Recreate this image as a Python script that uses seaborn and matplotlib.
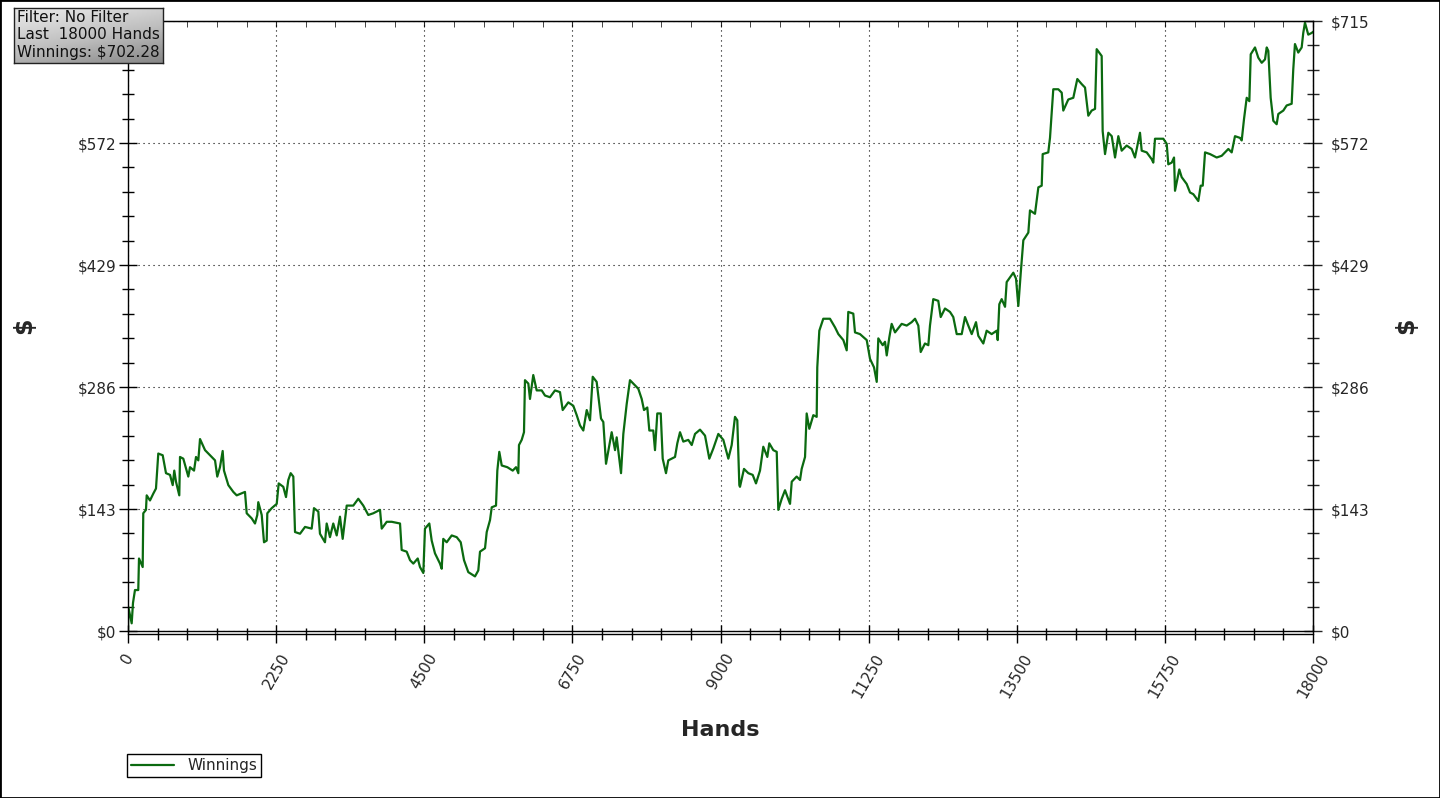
import numpy as np
import pandas as pd
import seaborn as sns
import matplotlib
matplotlib.use("Agg")
from matplotlib import pyplot as plt
import matplotlib.ticker as ticker
from matplotlib.patches import Rectangle

# values
hands = [0, 5, 56, 76, 106, 156, 167, 223, 232, 273, 284, 334, 384, 425, 460, 527, 577, 638, 679, 703,
         729, 779, 790, 840, 916, 942, 1003, 1033, 1068, 1094, 1170, 1246, 1322, 1356, 1397, 1438, 1458,
         1524, 1600, 1651, 1777, 1803, 1879, 1929, 1964, 1979, 2031, 2066, 2107, 2116, 2183, 2259, 2289,
         2359, 2400, 2435, 2471, 2511, 2537, 2613, 2689, 2790, 2825, 2891, 2916, 2992, 3018, 3068, 3118,
         3170, 3220, 3261, 3322, 3422, 3498, 3574, 3650, 3726, 3828, 3854, 3930, 4006, 4132, 4157, 4233,
         4284, 4334, 4401, 4435, 4486, 4511, 4577, 4613, 4663, 4739, 4765, 4789, 4841, 4917, 4993, 5054,
         5104, 5169, 5271, 5321, 5347, 5423, 5449, 5499, 5525, 5590, 5610, 5640, 5677, 5762, 5844, 5894,
         5929, 5939, 5980, 6015, 6030, 6081, 6106, 6156, 6208, 6284, 6334, 6410, 6486, 6562, 6603, 6688,
         6764, 6816, 6866, 6916, 6968, 7018, 7059, 7119, 7185, 7220, 7261, 7347, 7398, 7423, 7489, 7524,
         7575, 7625, 7701, 7751, 7803, 7838, 7888, 7919, 7979, 8005, 8040, 8092, 8122, 8172, 8207, 8309,
         8344, 8385, 8435, 8511, 8563, 8613, 8689, 8765, 8830, 8891, 8967, 9043, 9119, 9170, 9220, 9255,
         9286, 9296, 9357, 9422, 9489, 9539, 9600, 9650, 9711, 9741, 9802, 9854, 9878, 9930, 9980, 10056,
         10082, 10157, 10208, 10233, 10284, 10309, 10349, 10410, 10461, 10470, 10501, 10561, 10663, 10739,
         10790, 10866, 10917, 10941, 11017, 11043, 11119, 11221, 11271, 11332, 11373, 11397, 11464, 11499,
         11525, 11564, 11600, 11651, 11752, 11828, 11904, 11955, 12005, 12041, 12106, 12157, 12182, 12232,
         12308, 12345, 12410, 12486, 12536, 12588, 12664, 12714, 12764, 12816, 12881, 12916, 12992, 13043,
         13119, 13195, 13211, 13235, 13271, 13322, 13347, 13448, 13489, 13524, 13560, 13600, 13676, 13701,
         13777, 13828, 13879, 13894, 13979, 14005, 14055, 14131, 14183, 14207, 14283, 14359, 14420, 14487,
         14537, 14587, 14638, 14689, 14714, 14790, 14805, 14841, 14891, 14943, 14993, 15043, 15094, 15170,
         15246, 15296, 15372, 15398, 15474, 15550, 15574, 15600, 15726, 15778, 15802, 15854, 15889, 15904,
         15969, 16005, 16081, 16132, 16182, 16258, 16294, 16325, 16360, 16436, 16537, 16613, 16714, 16765,
         16815, 16891, 16917, 16952, 16993, 17033, 17054, 17119, 17169, 17221, 17271, 17297, 17321, 17357,
         17397, 17448, 17473, 17549, 17600, 17676, 17700, 17726, 17776, 17828, 17852, 17878, 17928, 17980,
         18000]
winnings = [0, 28, 9, 33, 48, 48, 85, 75, 138, 142, 159, 153, 161, 167, 208, 206, 185, 183, 171, 188,
            175, 159, 204, 202, 181, 192, 188, 204, 200, 225, 212, 206, 200, 181, 192, 211, 188,
            171, 163, 159, 163, 138, 132, 126, 136, 151, 136, 104, 106, 138, 144, 149, 173,
            169, 157, 177, 185, 181, 116, 114, 122, 120, 144, 140, 114, 104, 126, 110, 126,
            112, 134, 108, 147, 147, 155, 147, 136, 138, 142, 120, 128, 128, 126, 95, 93,
            83, 79, 85, 75, 68, 120, 126, 106, 91, 79, 73, 108, 104, 112, 110, 104,
            83, 69, 64, 71, 93, 97, 116, 130, 145, 147, 188, 210, 194, 192, 188, 192,
            185, 218, 224, 233, 294, 290, 272, 300, 282, 282, 276, 274, 282, 280, 259, 268,
            264, 253, 241, 235, 259, 247, 298, 292, 249, 245, 196, 233, 212, 227, 185, 231,
            266, 294, 288, 284, 272, 259, 262, 235, 235, 212, 255, 255, 202, 185, 200, 204,
            220, 233, 222, 224, 218, 231, 236, 229, 202, 214, 231, 224, 202, 218, 251, 247,
            171, 169, 190, 185, 183, 173, 188, 216, 204, 220, 212, 210, 142, 155, 165, 149,
            175, 181, 177, 190, 204, 255, 237, 253, 251, 309, 352, 366, 366, 356,
            348, 341, 329, 374, 372, 350, 348, 341, 319, 309, 292, 343, 335, 339,
            323, 344, 360, 350, 360, 358, 362, 366, 358, 327, 337, 335, 358, 389,
            387, 368, 378, 374, 368, 348, 348, 368, 358, 348, 362, 346, 337, 352,
            348, 352, 341, 383, 389, 380, 409, 420, 413, 381, 419, 458, 467, 493,
            489, 520, 522, 559, 561, 578, 635, 635, 631, 610, 623, 625, 647, 641,
            637, 604, 610, 612, 682, 674, 586, 559, 584, 580, 555, 580, 563, 569,
            565, 555, 584, 563, 561, 553, 549, 577, 577, 571, 547, 549, 555, 516,
            541, 532, 524, 514, 512, 504, 522, 522, 561, 559, 555, 557, 565, 561,
            580, 578, 575, 600, 625, 621, 676, 684, 672, 666, 670, 684, 680, 625,
            598, 594, 606, 610, 616, 618, 658, 688, 678, 684, 701, 713, 699, 701,
            702.28]

x_major = [0, 2250, 4500, 6750, 9000, 11250, 13500, 15750, 18000]
y_major = [0, 143, 286, 429, 572, 715]
left_labels = ["$0", "$143", "$286", "$429", "$572", ""]
right_labels = ["$0", "$143", "$286", "$429", "$572", "$715"]
info_lines = ["Filter: No Filter", "Last  18000 Hands", "Winnings: $702.28"]

df = pd.DataFrame({"Hands": hands, "Winnings": winnings})

sns.set_style("white")
plt.rcParams["font.family"] = ["DejaVu Sans"]

fig = plt.figure(figsize=(14.4, 7.98), dpi=100)
ax = fig.add_axes([128 / 1440, 1 - 631 / 798, 1185 / 1440, 610 / 798])

green = "#0b6a10"
sns.lineplot(data=df, x="Hands", y="Winnings", color=green, linewidth=1.6, ax=ax,
             label="Winnings", legend=False)

ax.set_xlim(0, 18000)
ax.set_ylim(0, 715)
ax.set_xticks(x_major)
ax.set_xticklabels([str(v) for v in x_major])
ax.set_yticks(y_major)
ax.set_yticklabels(left_labels)
ax.xaxis.set_minor_locator(ticker.AutoMinorLocator(5))
ax.yaxis.set_minor_locator(ticker.AutoMinorLocator(5))

for sp in ax.spines.values():
    sp.set_color("black")
    sp.set_linewidth(1.0)
ax.spines["bottom"].set_position(("outward", 1.8))
ax.axhline(0, color="black", lw=1.0, clip_on=False, zorder=1)

ax.tick_params(which="major", direction="inout", length=13, width=1, color="black",
               bottom=True, left=True, top=False, right=False, pad=2, labelsize=11)
ax.tick_params(which="minor", direction="inout", length=8, width=1, color="black",
               bottom=True, left=True, top=False, right=False)
ax.tick_params(axis="x", labelrotation=60, pad=6)

# top ticks pointing in
top = ax.secondary_xaxis("top")
top.set_xticks(x_major)
top.xaxis.set_minor_locator(ticker.AutoMinorLocator(5))
top.tick_params(which="both", direction="in", length=4, labeltop=False)

# right axis duplicates the dollar scale
right = ax.secondary_yaxis("right")
right.set_yticks(y_major)
right.set_yticklabels(right_labels)
right.yaxis.set_minor_locator(ticker.AutoMinorLocator(5))
right.tick_params(which="major", direction="inout", length=13, width=1, labelsize=11, pad=6)
right.tick_params(which="minor", direction="inout", length=8, width=1)
right.set_ylabel("$", fontsize=17, fontweight="bold", rotation=90, labelpad=18)

ax.grid(True, which="major", color="black", linestyle=(0, (1, 3.5)), linewidth=0.8)
ax.set_xlabel("Hands", fontsize=16, fontweight="bold", labelpad=14)
ax.set_ylabel("$", fontsize=17, fontweight="bold", labelpad=30)

fig.legend(loc="lower left", bbox_to_anchor=(127 / 1440, 1 - 777 / 798), fontsize=11,
           frameon=True, fancybox=False, edgecolor="black", framealpha=1,
           borderpad=0.25, handlelength=2.8, handletextpad=0.9, borderaxespad=0)

# info box with grey gradient
box = fig.add_axes([14 / 1440, 1 - 63 / 798, 149 / 1440, 55 / 798])
grad = np.linspace(0, 1, 64)
grad = np.add.outer(grad, grad * 0.5)
box.imshow(grad, cmap="Greys", vmin=-0.6, vmax=3.2, aspect="auto", extent=(0, 1, 0, 1),
           origin="upper")
box.set_xlim(0, 1)
box.set_ylim(0, 1)
box.set_xticks([])
box.set_yticks([])
for sp in box.spines.values():
    sp.set_color("#222222")
    sp.set_linewidth(1.0)
for i, line in enumerate(info_lines):
    box.text(0.02, 0.83 - i * 0.32, line, fontsize=11, va="center", ha="left", color="#111111")

fig.patches.append(Rectangle((0, 0), 1, 1, transform=fig.transFigure, fill=False,
                             edgecolor="black", linewidth=2))

fig.savefig("out.png", dpi=100)
